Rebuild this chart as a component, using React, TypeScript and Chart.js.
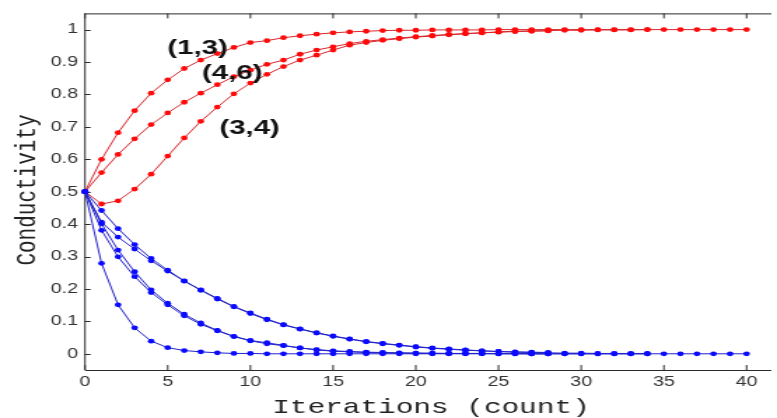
import React, { useEffect, useRef } from 'react';
import { Chart, registerables } from 'chart.js';

Chart.register(...registerables);

// Iteration index (x values)
const iterations = [0, 1, 2, 3, 4, 5, 6, 7, 8, 9, 10, 11, 12, 13, 14, 15, 16, 17, 18, 19, 20,
  21, 22, 23, 24, 25, 26, 27, 28, 29, 30, 31, 32, 33, 34, 35, 36, 37, 38, 39, 40];

// Axis tick values
const xTickValues = [0, 5, 10, 15, 20, 25, 30, 35, 40];
const yTickValues = [0, 0.1, 0.2, 0.3, 0.4, 0.5, 0.6, 0.7, 0.8, 0.9, 1];

// Conductivity of the reinforced links (red)
const red13 = [0.5, 0.6, 0.682, 0.75, 0.804, 0.845, 0.88, 0.906, 0.926, 0.945, 0.96, 0.966, 0.975, 0.981,
  0.986, 0.99, 0.993, 0.995, 0.997, 0.998, 0.998, 0.999, 0.999, 0.999, 0.999, 1, 1, 1, 1, 1, 1,
  1, 1, 1, 1, 1, 1, 1, 1, 1, 1];
const red46 = [0.5, 0.559, 0.615, 0.663, 0.707, 0.743, 0.776, 0.804, 0.83, 0.855, 0.875, 0.893, 0.906,
  0.924, 0.937, 0.947, 0.957, 0.964, 0.969, 0.974, 0.978, 0.982, 0.985, 0.988, 0.99, 0.993, 0.995,
  0.996, 0.997, 0.998, 0.998, 0.999, 0.999, 0.999, 1];
const red34 = [0.5, 0.462, 0.472, 0.508, 0.554, 0.61, 0.666, 0.717, 0.761, 0.802, 0.835, 0.862, 0.886,
  0.906, 0.921, 0.937, 0.952, 0.96, 0.967, 0.972, 0.977, 0.98, 0.984, 0.987, 0.99, 0.992, 0.994,
  0.995, 0.996];

// Conductivity of the decaying links (blue)
const blueA = [0.5, 0.442, 0.386, 0.337, 0.294, 0.258, 0.225, 0.197, 0.171, 0.146, 0.126, 0.107, 0.09,
  0.077, 0.065, 0.055, 0.046, 0.038, 0.032, 0.027, 0.022, 0.018, 0.015, 0.012, 0.009, 0.007, 0.006,
  0.005, 0.004];
const blueB = [0.5, 0.406, 0.36, 0.323, 0.287, 0.255, 0.224, 0.196, 0.169, 0.145, 0.124, 0.105, 0.089,
  0.076, 0.064, 0.054, 0.045, 0.037, 0.031, 0.026, 0.021, 0.017, 0.014, 0.011, 0.009, 0.007, 0.005,
  0.004, 0.003, 0.002, 0.002, 0.001, 0.001, 0.001, 0.001];
const blueC = [0.5, 0.401, 0.32, 0.253, 0.197, 0.156, 0.122, 0.095, 0.072, 0.054, 0.041, 0.034, 0.026,
  0.018, 0.012, 0.008, 0.006, 0.004, 0.003, 0.002, 0.002, 0.001, 0.001, 0.001, 0.001, 0, 0, 0, 0];
const blueD = [0.5, 0.381, 0.299, 0.238, 0.189, 0.151, 0.117, 0.091, 0.071, 0.053, 0.04, 0.031, 0.025,
  0.018, 0.013, 0.009, 0.007, 0.005, 0.004, 0.003, 0.002, 0.002, 0.001, 0.001, 0.001, 0.001, 0.001,
  0, 0, 0, 0, 0, 0, 0, 0];
const blueE = [0.5, 0.279, 0.151, 0.08, 0.039, 0.019, 0.01, 0.006, 0.003, 0.001, 0.001, 0, 0, 0, 0, 0,
  0, 0, 0, 0, 0, 0, 0, 0, 0, 0, 0, 0, 0, 0, 0, 0, 0, 0, 0, 0, 0, 0, 0, 0, 0];

// Curve labels (text and anchor in data units)
const labelTexts = ['(1,3)', '(4,6)', '(3,4)'];
const labelX = [6.8, 8.9, 9.95];
const labelY = [0.942, 0.865, 0.697];

const xTitle = 'Iterations (count)';
const yTitle = 'Conductivity';

const STRETCH = 1.4;
const VIEW_W = 777;
const VIEW_H = 418;
const BUF_W = Math.round(VIEW_W / STRETCH);

const RED_LINE = '#d8262c';
const RED_PT = '#ff0a0a';
const BLUE_LINE = '#2222c8';
const BLUE_PT = '#0a0aff';

function toPoints(values: number[]) {
  return values.map((v, i) => ({ x: iterations[i], y: v }));
}

function makeSet(values: number[], line: string, pt: string) {
  return {
    data: toPoints(values),
    borderColor: line,
    borderWidth: 1,
    backgroundColor: pt,
    pointBackgroundColor: pt,
    pointBorderColor: pt,
    pointBorderWidth: 0,
    pointRadius: 2.4,
    pointStyle: 'circle' as const,
    tension: 0,
    clip: false as const,
  };
}

const framePlugin = {
  id: 'frame',
  beforeDatasetsDraw(chart: any) {
    const { ctx, chartArea, scales } = chart;
    const { left, right, top, bottom } = chartArea;
    const x = scales.x;
    const y = scales.y;
    ctx.save();
    ctx.strokeStyle = '#2a2a2a';
    ctx.lineWidth = 1;
    ctx.beginPath();
    ctx.moveTo(left, top + 0.5);
    ctx.lineTo(right, top + 0.5);
    ctx.moveTo(left, top);
    ctx.lineTo(left, bottom);
    ctx.moveTo(left, bottom + 0.5);
    ctx.lineTo(right, bottom + 0.5);
    x.ticks.forEach((t: any) => {
      const px = x.getPixelForValue(t.value);
      ctx.moveTo(px, bottom);
      ctx.lineTo(px, bottom - 5);
      ctx.moveTo(px, top);
      ctx.lineTo(px, top + 5);
    });
    y.ticks.forEach((t: any) => {
      const py = Math.round(y.getPixelForValue(t.value)) + 0.5;
      ctx.moveTo(left, py);
      ctx.lineTo(left + 4, py);
    });
    ctx.stroke();
    ctx.restore();
  },
  afterDraw(chart: any) {
    const { ctx, chartArea, scales } = chart;
    const x = scales.x;
    const y = scales.y;
    ctx.save();
    // curve labels
    ctx.fillStyle = '#111';
    ctx.font = 'bold 21px "Liberation Sans", Arial, sans-serif';
    ctx.textAlign = 'center';
    ctx.textBaseline = 'middle';
    labelTexts.forEach((t, i) => {
      ctx.fillText(t, x.getPixelForValue(labelX[i]), y.getPixelForValue(labelY[i]));
    });
    // x title
    ctx.fillStyle = '#222';
    ctx.font = '21px "Liberation Mono", "Courier New", monospace';
    ctx.textAlign = 'center';
    ctx.textBaseline = 'alphabetic';
    ctx.fillText(xTitle, (chartArea.left + chartArea.right) / 2 + 2, 413);
    // y title
    ctx.translate(19, 190);
    ctx.rotate(-Math.PI / 2);
    ctx.textBaseline = 'middle';
    ctx.fillText(yTitle, 0, 0);
    ctx.restore();
  },
};

export default function App() {
  const ref = useRef<HTMLCanvasElement | null>(null);

  useEffect(() => {
    if (!ref.current) return;
    const chart = new Chart(ref.current, {
      type: 'line',
      data: {
        datasets: [
          makeSet(blueE, BLUE_LINE, BLUE_PT),
          makeSet(blueD, BLUE_LINE, BLUE_PT),
          makeSet(blueC, BLUE_LINE, BLUE_PT),
          makeSet(blueB, BLUE_LINE, BLUE_PT),
          makeSet(blueA, BLUE_LINE, BLUE_PT),
          makeSet(red34, RED_LINE, RED_PT),
          makeSet(red46, RED_LINE, RED_PT),
          makeSet(red13, RED_LINE, RED_PT),
        ] as any,
      },
      options: {
        responsive: false,
        animation: false,
        devicePixelRatio: 1,
        layout: { padding: { top: 10, left: 0, right: 0, bottom: 0 } },
        plugins: {
          legend: { display: false },
          tooltip: { enabled: false },
        },
        scales: {
          x: {
            type: 'linear',
            min: 0,
            max: 41.5,
            grid: { display: false, drawTicks: false },
            border: { display: false },
            afterBuildTicks(s: any) {
              s.ticks = xTickValues.map((v) => ({ value: v }));
            },
            ticks: {
              maxRotation: 0,
              autoSkip: false,
              padding: 4,
              color: '#333',
              font: { family: '"Liberation Sans", Arial, sans-serif', size: 14 },
              callback: (v: any) => String(v),
            },
            afterFit(s: any) {
              s.height = 48;
            },
          },
          y: {
            type: 'linear',
            min: -0.05,
            max: 1.05,
            grid: { display: false, drawTicks: false },
            border: { display: false },
            afterBuildTicks(s: any) {
              s.ticks = yTickValues.map((v) => ({ value: v }));
            },
            ticks: {
              autoSkip: false,
              padding: 5,
              color: '#333',
              font: { family: '"Liberation Sans", Arial, sans-serif', size: 14 },
              callback: (v: any) => String(Number(Number(v).toFixed(1))),
            },
            afterFit(s: any) {
              s.width = 85 / STRETCH;
            },
          },
        },
      } as any,
      plugins: [framePlugin],
    });
    return () => chart.destroy();
  }, []);

  return (
    <div style={{ position: 'fixed', left: 0, top: 0, width: VIEW_W, height: VIEW_H, background: '#fff' }}>
      <canvas
        ref={ref}
        width={BUF_W}
        height={VIEW_H}
        style={{ width: VIEW_W + 'px', height: VIEW_H + 'px', display: 'block' }}
      />
    </div>
  );
}
